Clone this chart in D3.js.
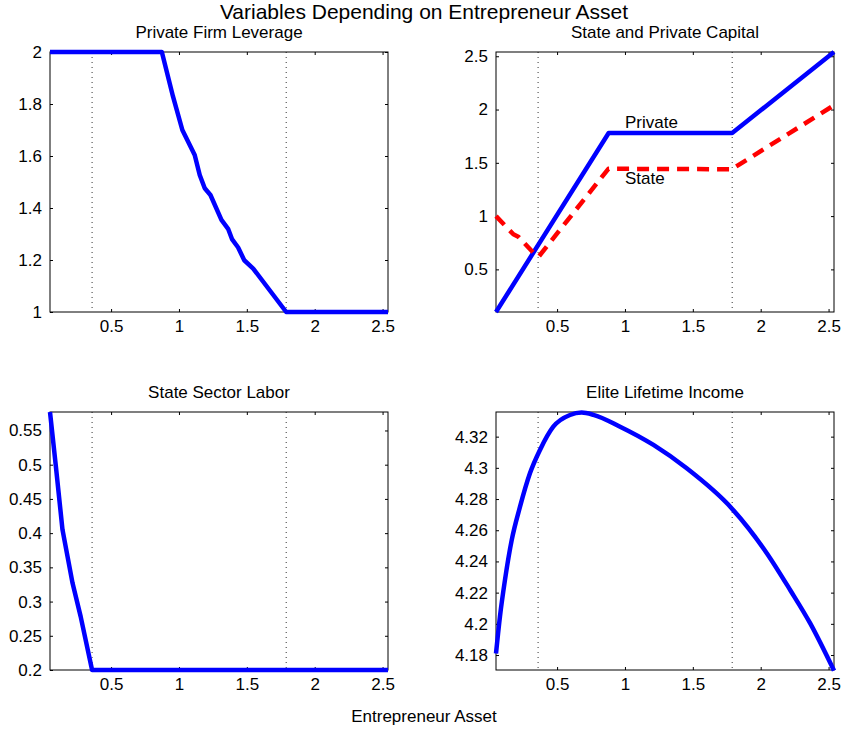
<!DOCTYPE html>
<html>
<head>
<meta charset="utf-8">
<script src="https://cdn.jsdelivr.net/npm/d3@7"></script>
<style>
  body { margin: 0; background: #fff; }
  svg { font-family: "Liberation Sans", Arial, sans-serif; }
</style>
</head>
<body>
<svg id="chart" width="844" height="729"></svg>
<script>
// values
const xTicks = [0.5, 1, 1.5, 2, 2.5];
const xDomain = [0.05, 2.54];
const cutoffs = [0.36, 1.79];  // dotted vertical lines

// Private Firm Leverage
const levX = [0.05, 0.874, 0.956, 1.025, 1.116, 1.153, 1.19, 1.232, 1.313, 1.362, 1.392, 1.436, 1.481, 1.547, 1.79, 2.54];
const levY = [2, 2, 1.829, 1.70, 1.604, 1.527, 1.476, 1.45, 1.354, 1.32, 1.279, 1.248, 1.199, 1.167, 1, 1];
const levTicks = [1, 1.2, 1.4, 1.6, 1.8, 2];

// State and Private Capital
const privX = [0.05, 0.88, 1.79, 2.54];
const privY = [0.1, 1.78, 1.78, 2.54];
const stateX = [0.05, 0.178, 0.214, 0.325, 0.365, 0.878, 1.787, 2.54];
const stateY = [1.0, 0.829, 0.807, 0.657, 0.62, 1.444, 1.44, 2.04];
const capTicks = [0.5, 1, 1.5, 2, 2.5];
const capLabels = [{ text: "Private", x: 1.0, y: 1.83 }, { text: "State", x: 1.0, y: 1.30 }];

// State Sector Labor
const labX = [0.05, 0.093, 0.142, 0.179, 0.216, 0.276, 0.36, 2.54];
const labY = [0.577, 0.498, 0.405, 0.366, 0.327, 0.278, 0.2, 0.2];
const labTicks = [0.2, 0.25, 0.3, 0.35, 0.4, 0.45, 0.5, 0.55];

// Elite Lifetime Income
const incX = [0.05, 0.079, 0.116, 0.166, 0.227, 0.3, 0.374, 0.472, 0.595, 0.681, 0.767, 0.964, 1.21, 1.455, 1.787, 2.045, 2.217, 2.364, 2.54];
const incY = [4.181, 4.2046, 4.2281, 4.2538, 4.2751, 4.2965, 4.3115, 4.3264, 4.3339, 4.3354, 4.334, 4.3264, 4.3147, 4.2997, 4.274, 4.2453, 4.2217, 4.2004, 4.170];
const incTicks = [4.18, 4.2, 4.22, 4.24, 4.26, 4.28, 4.3, 4.32];

const svg = d3.select("#chart");
const fmt = d => String(+d.toFixed(2));
const zip = (xs, ys) => xs.map((x, i) => ({ x: x, y: ys[i] }));

function drawPanel(opts) {
  const { left, top, width, height, title, yDomain, yTicks, series, labels, curve } = opts;
  const g = svg.append("g").attr("transform", `translate(${left},${top})`);

  const x = d3.scaleLinear().domain(xDomain).range([0, width]);
  const y = d3.scaleLinear().domain(yDomain).range([height, 0]);

  // title
  g.append("text")
    .attr("x", width / 2)
    .attr("y", -14)
    .attr("text-anchor", "middle")
    .style("font-size", "17px")
    .text(title);

  // dotted cutoffs
  g.selectAll(".cut")
    .data(cutoffs)
    .enter()
    .append("line")
    .attr("x1", d => x(d)).attr("x2", d => x(d))
    .attr("y1", 0).attr("y2", height)
    .attr("stroke", "#333")
    .attr("stroke-width", 1)
    .attr("stroke-dasharray", "1,4");

  // axes, ticks pointing inward on all sides
  const axB = g.append("g").attr("transform", `translate(0,${height})`)
    .call(d3.axisBottom(x).tickValues(xTicks).tickFormat(fmt).tickSizeInner(-3).tickSizeOuter(0).tickPadding(8));
  const axT = g.append("g")
    .call(d3.axisTop(x).tickValues(xTicks).tickFormat("").tickSizeInner(-3).tickSizeOuter(0));
  const axL = g.append("g")
    .call(d3.axisLeft(y).tickValues(yTicks).tickFormat(fmt).tickSizeInner(-3).tickSizeOuter(0).tickPadding(8));
  const axR = g.append("g").attr("transform", `translate(${width},0)`)
    .call(d3.axisRight(y).tickValues(yTicks).tickFormat("").tickSizeInner(-3).tickSizeOuter(0));
  [axB, axT, axL, axR].forEach(a => {
    a.select(".domain").remove();
    a.selectAll("line").attr("stroke", "#000");
    a.selectAll("text").style("font-size", "17px").attr("fill", "#000").style("font-family", "Liberation Sans, Arial, sans-serif");
  });

  // box
  g.append("rect")
    .attr("width", width)
    .attr("height", height)
    .attr("fill", "none")
    .attr("stroke", "#000")
    .attr("stroke-width", 1);

  const line = d3.line()
    .x(d => x(d.x))
    .y(d => y(d.y))
    .curve(curve || d3.curveLinear);

  series.forEach(s => {
    g.append("path")
      .datum(s.data)
      .attr("d", line)
      .attr("fill", "none")
      .attr("stroke", s.color)
      .attr("stroke-width", 4.5)
      .attr("stroke-linejoin", "round")
      .attr("stroke-dasharray", s.dash || null);
  });

  (labels || []).forEach(l => {
    g.append("text")
      .attr("x", x(l.x))
      .attr("y", y(l.y))
      .style("font-size", "17px")
      .text(l.text);
  });
}

const colL = 50, colR = 496, rowT = 52, rowB = 412;
const pw = 338, phT = 260, phB = 258;

drawPanel({
  left: colL, top: rowT, width: pw, height: phT,
  title: "Private Firm Leverage",
  yDomain: [1, 2], yTicks: levTicks,
  series: [{ data: zip(levX, levY), color: "#0000ff" }]
});

drawPanel({
  left: colR, top: rowT, width: pw, height: phT,
  title: "State and Private Capital",
  yDomain: [0.1, 2.54], yTicks: capTicks,
  series: [
    { data: zip(privX, privY), color: "#0000ff" },
    { data: zip(stateX, stateY), color: "#ff0000", dash: "12,8" }
  ],
  labels: capLabels
});

drawPanel({
  left: colL, top: rowB, width: pw, height: phB,
  title: "State Sector Labor",
  yDomain: [0.2, 0.577], yTicks: labTicks,
  series: [{ data: zip(labX, labY), color: "#0000ff" }]
});

drawPanel({
  left: colR, top: rowB, width: pw, height: phB,
  title: "Elite Lifetime Income",
  yDomain: [4.1704, 4.3358], yTicks: incTicks,
  series: [{ data: zip(incX, incY), color: "#0000ff" }],
  curve: d3.curveMonotoneX
});

// figure title and shared x label
svg.append("text")
  .attr("x", 424)
  .attr("y", 19)
  .attr("text-anchor", "middle")
  .style("font-size", "21px")
  .text("Variables Depending on Entrepreneur Asset");

svg.append("text")
  .attr("x", 424)
  .attr("y", 722)
  .attr("text-anchor", "middle")
  .style("font-size", "17px")
  .text("Entrepreneur Asset");
</script>
</body>
</html>
